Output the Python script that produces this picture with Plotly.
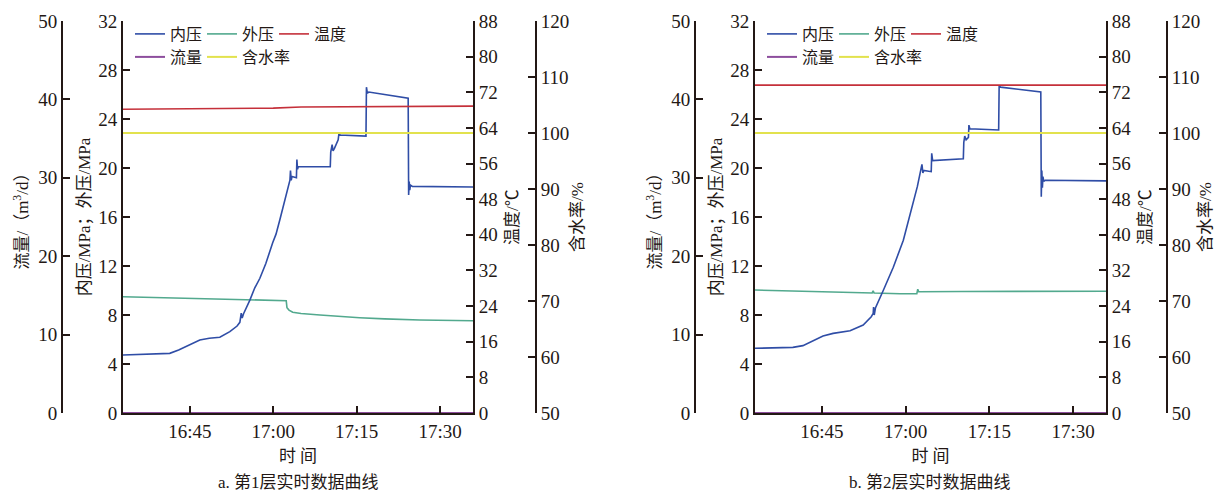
import plotly.graph_objects as go

DAY = "2023-01-01 "

# ---------------- Panel a (第1层) ----------------
a_in_t = ["16:33:00", "16:37:00", "16:41:24", "16:43:00", "16:44:30", "16:46:48", "16:48:30",
          "16:50:24", "16:52:12", "16:53:30", "16:54:00", "16:54:15", "16:54:25", "16:54:40",
          "16:55:48", "16:56:40", "16:57:36", "16:58:40", "16:59:54", "17:00:30", "17:01:12",
          "17:02:06", "17:02:40", "17:03:00", "17:03:06", "17:03:14", "17:03:22", "17:04:10",
          "17:04:15", "17:04:22", "17:04:30", "17:10:15", "17:10:20", "17:10:35", "17:10:45",
          "17:11:00", "17:11:40", "17:11:50", "17:12:00", "17:16:40", "17:16:45", "17:16:55",
          "17:17:10", "17:24:15", "17:24:20", "17:24:26", "17:24:32", "17:24:40", "17:25:00",
          "17:36:00"]
a_in_v = [4.73, 4.80, 4.87, 5.15, 5.45, 5.96, 6.10,
          6.18, 6.64, 7.10, 7.40, 8.15, 7.75, 8.10,
          9.22, 10.2, 11.0, 12.2, 13.9, 14.6, 15.8,
          17.4, 18.4, 19.0, 19.8, 19.0, 19.3, 19.2,
          20.7, 19.9, 20.1, 20.1, 21.3, 21.9, 21.4,
          21.6, 22.3, 22.9, 22.7, 22.6, 26.6, 26.1,
          26.2, 25.7, 17.8, 18.9, 18.2, 18.6, 18.5,
          18.45]

a_out_t = ["16:33:00", "16:40:00", "16:50:00", "16:55:00", "17:02:20", "17:02:28", "17:02:50",
           "17:03:30", "17:05:00", "17:08:24", "17:12:00", "17:15:32", "17:20:00", "17:26:19",
           "17:36:00"]
a_out_v = [9.49, 9.40, 9.30, 9.24, 9.17, 8.60, 8.40,
           8.22, 8.12, 8.00, 7.88, 7.78, 7.68, 7.59,
           7.53]

a_temp_t = ["16:33:00", "16:50:00", "17:00:00", "17:05:00", "17:20:00", "17:36:00"]
a_temp_v = [68.2, 68.3, 68.45, 68.7, 68.82, 68.9]

a_flow_t = ["16:33:00", "17:36:00"]
a_flow_v = [0, 0]

a_water_t = ["16:33:00", "17:36:00"]
a_water_v = [100, 100]

# ---------------- Panel b (第2层) ----------------
b_in_t = ["16:33:00", "16:39:47", "16:41:35", "16:43:30", "16:45:11", "16:47:00", "16:50:02",
          "16:52:23", "16:53:50", "16:54:11", "16:54:15", "16:54:22", "16:54:35", "16:55:59",
          "16:57:47", "16:59:35", "17:00:51", "17:02:06", "17:02:55", "17:03:05", "17:03:15",
          "17:04:35", "17:04:40", "17:04:50", "17:10:20", "17:10:25", "17:10:35", "17:10:50",
          "17:11:15", "17:11:20", "17:11:30", "17:16:40", "17:16:45", "17:17:00", "17:24:13",
          "17:24:18", "17:24:24", "17:24:30", "17:24:36", "17:24:45", "17:25:00", "17:36:00"]
b_in_v = [5.28, 5.36, 5.50, 5.90, 6.29, 6.50, 6.72,
          7.18, 7.86, 8.14, 8.65, 8.00, 8.57, 10.0,
          11.9, 14.1, 16.3, 18.5, 20.3, 19.6, 19.8,
          19.7, 21.2, 20.6, 20.75, 22.1, 22.6, 22.3,
          22.5, 23.5, 23.2, 23.1, 26.7, 26.6, 26.2,
          17.66, 19.8, 18.4, 19.3, 18.9, 19.0, 18.95]

b_out_t = ["16:33:00", "16:40:00", "16:48:47", "16:54:00", "16:54:10", "16:54:20", "16:59:00",
           "17:02:00", "17:02:10", "17:02:20", "17:10:00", "17:20:00", "17:36:00"]
b_out_v = [10.04, 9.95, 9.82, 9.80, 9.97, 9.80, 9.74,
           9.74, 10.1, 9.90, 9.92, 9.93, 9.94]

b_temp_t = ["16:33:00", "17:36:00"]
b_temp_v = [73.6, 73.6]

b_flow_t = ["16:33:00", "17:36:00"]
b_flow_v = [0, 0]

b_water_t = ["16:33:00", "17:36:00"]
b_water_v = [100, 100]

# ---------------- Axis settings ----------------
x_range = ["16:33:00", "17:35:54"]
x_tickvals = ["16:45:00", "17:00:00", "17:15:00", "17:30:00"]
x_ticktext = ["16:45", "17:00", "17:15", "17:30"]
press_ticks = [0, 4, 8, 12, 16, 20, 24, 28, 32]
flow_ticks = [0, 10, 20, 30, 40, 50]
temp_ticks = [0, 8, 16, 24, 32, 40, 48, 56, 64, 72, 80, 88]
water_ticks = [50, 60, 70, 80, 90, 100, 110, 120]

colors = {"内压": "#2F4DA6", "外压": "#52A98E", "温度": "#C5303A",
          "流量": "#8D4E9D", "含水率": "#E2E24E"}

AX = "#231815"
TXT = "Liberation Serif, Noto Sans CJK SC, serif"
CJK = "Noto Sans CJK SC, Liberation Serif, sans-serif"

W, H = 1215, 491
def px(x):
    return x / W
def py(y):
    return 1 - y / H

ydom = [py(413), py(21)]

fig = go.Figure()

def full(ts):
    return [DAY + t for t in ts]

def add_panel(xa, y_press, y_flow, y_temp, y_water, leg1, leg2, data):
    (in_t, in_v, out_t, out_v, temp_t, temp_v, flow_t, flow_v, water_t, water_v) = data
    fig.add_trace(go.Scatter(x=full(flow_t), y=flow_v, name="流量", mode="lines",
                             line=dict(color=colors["流量"], width=2),
                             xaxis=xa, yaxis=y_flow, legend=leg2, legendrank=4))
    fig.add_trace(go.Scatter(x=full(water_t), y=water_v, name="含水率", mode="lines",
                             line=dict(color=colors["含水率"], width=2),
                             xaxis=xa, yaxis=y_water, legend=leg2, legendrank=5,
                             legendwidth=60))
    fig.add_trace(go.Scatter(x=full(temp_t), y=temp_v, name="温度", mode="lines",
                             line=dict(color=colors["温度"], width=1.6),
                             xaxis=xa, yaxis=y_temp, legend=leg1, legendrank=3,
                             legendwidth=40))
    fig.add_trace(go.Scatter(x=full(out_t), y=out_v, name="外压", mode="lines",
                             line=dict(color=colors["外压"], width=1.6),
                             xaxis=xa, yaxis=y_press, legend=leg1, legendrank=2))
    fig.add_trace(go.Scatter(x=full(in_t), y=in_v, name="内压", mode="lines",
                             line=dict(color=colors["内压"], width=1.6),
                             xaxis=xa, yaxis=y_press, legend=leg1, legendrank=1))

add_panel("x", "y", "y2", "y3", "y4", "legend", "legend2",
          (a_in_t, a_in_v, a_out_t, a_out_v, a_temp_t, a_temp_v,
           a_flow_t, a_flow_v, a_water_t, a_water_v))
add_panel("x2", "y5", "y6", "y7", "y8", "legend3", "legend4",
          (b_in_t, b_in_v, b_out_t, b_out_v, b_temp_t, b_temp_v,
           b_flow_t, b_flow_v, b_water_t, b_water_v))

common = dict(showline=True, linecolor=AX, linewidth=1.8, ticks="inside", ticklen=7,
              tickwidth=1.6, tickcolor=AX, showgrid=False, zeroline=False,
              automargin=False,
              tickfont=dict(family=TXT, size=19, color=AX))
title_font = dict(family=TXT, size=17, color=AX)

def xaxis(domain, anchor):
    return dict(common, domain=domain, anchor=anchor, type="date",
                range=[DAY + x_range[0], DAY + x_range[1]],
                tickvals=[DAY + t for t in x_tickvals], ticktext=x_ticktext,
                title=dict(text="时 间", font=dict(family=CJK, size=17, color=AX), standoff=6))

def yaxes(xname, pname, flow_pos, water_pos):
    return {
        "press": dict(common, domain=ydom, anchor=xname, range=[0, 32], tickvals=press_ticks,
                      side="left",
                      title=dict(text="内压/MPa；外压/MPa", font=title_font, standoff=3)),
        "flow": dict(common, overlaying=pname, anchor="free", position=flow_pos,
                     side="left", range=[0, 50], tickvals=flow_ticks,
                     title=dict(text="流量/（m<sup>3</sup>/d）", font=title_font, standoff=4)),
        "temp": dict(common, overlaying=pname, anchor=xname, side="right", range=[0, 88],
                     tickvals=temp_ticks,
                     title=dict(text="温度/℃", font=title_font, standoff=9)),
        "water": dict(common, overlaying=pname, anchor="free", position=water_pos,
                      side="right", range=[50, 120], tickvals=water_ticks,
                      title=dict(text="含水率/%", font=title_font, standoff=2)),
    }

ya = yaxes("x", "y", px(62), px(536))
yb = yaxes("x2", "y5", px(695), px(1167))

leg_common = dict(orientation="h", xanchor="left", yanchor="middle",
                  font=dict(family=CJK, size=16, color=AX), bgcolor="rgba(0,0,0,0)",
                  entrywidth=27, entrywidthmode="pixels", itemwidth=30,
                  traceorder="normal", borderwidth=0)

fig.update_layout(
    width=W, height=H,
    margin=dict(l=0, r=0, t=0, b=0),
    paper_bgcolor="white", plot_bgcolor="white",
    showlegend=True,
    xaxis=xaxis([px(123), px(473)], "y"),
    xaxis2=xaxis([px(755), px(1106)], "y5"),
    yaxis=ya["press"], yaxis2=ya["flow"], yaxis3=ya["temp"], yaxis4=ya["water"],
    yaxis5=yb["press"], yaxis6=yb["flow"], yaxis7=yb["temp"], yaxis8=yb["water"],
    legend=dict(leg_common, x=px(130), y=py(34)),
    legend2=dict(leg_common, x=px(130), y=py(57)),
    legend3=dict(leg_common, x=px(762), y=py(34)),
    legend4=dict(leg_common, x=px(762), y=py(57)),
    annotations=[
        dict(text="a. 第1层实时数据曲线", x=px(298), y=py(482), xref="paper", yref="paper",
             showarrow=False, xanchor="center", yanchor="middle",
             font=dict(family=TXT, size=17, color=AX)),
        dict(text="b. 第2层实时数据曲线", x=px(930), y=py(482), xref="paper", yref="paper",
             showarrow=False, xanchor="center", yanchor="middle",
             font=dict(family=TXT, size=17, color=AX)),
    ],
)

fig.write_html("out.html",
               config={"displayModeBar": False},
               post_script="document.body.style.margin='0';document.body.style.overflow='hidden';")
